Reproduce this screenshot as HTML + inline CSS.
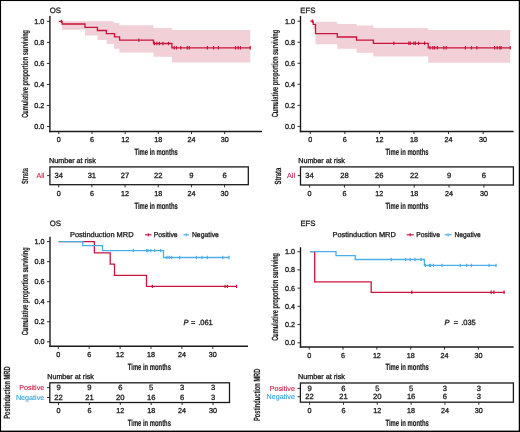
<!DOCTYPE html>
<html><head><meta charset="utf-8"><style>
html,body{margin:0;padding:0;background:#fff;}
body{width:520px;height:432px;overflow:hidden;font-family:"Liberation Sans",sans-serif;}
svg{display:block;will-change:transform;}
text{font-family:"Liberation Sans",sans-serif;text-rendering:geometricPrecision;}
</style></head><body>
<svg width="520" height="432" viewBox="0 0 520 432" font-family="Liberation Sans, sans-serif">
<rect x="0" y="0" width="520" height="432" fill="#fff"/>
<path d="M62.00,21.30 L85.00,21.30 L85.00,21.30 L97.60,21.30 L97.60,21.30 L106.60,21.30 L106.60,21.30 L113.80,21.30 L113.80,23.10 L119.30,23.10 L119.30,25.30 L153.50,25.30 L153.50,28.00 L171.90,28.00 L171.90,30.00 L250.30,30.00 L250.30,62.60 L171.90,62.60 L171.90,56.80 L153.50,56.80 L153.50,52.60 L119.30,52.60 L119.30,48.70 L113.80,48.70 L113.80,43.90 L106.60,43.90 L106.60,40.00 L97.60,40.00 L97.60,35.60 L85.00,35.60 L85.00,29.80 L62.00,29.80 Z" fill="#f2d0d7" stroke="none"/>
<path d="M58.80,21.40 H62.10 V24.00 H85.00 V27.40 H97.40 V30.50 H106.40 V33.60 H114.50 V36.80 H119.60 V40.10 H153.50 V43.50 H171.90 V47.80 H250.50" fill="none" stroke="#c8143c" stroke-width="1.3" stroke-linejoin="miter" stroke-linecap="butt"/>
<line x1="61.40" y1="19.70" x2="61.40" y2="23.10" stroke="#c8143c" stroke-width="1.2"/>
<line x1="138.80" y1="38.40" x2="138.80" y2="41.80" stroke="#c8143c" stroke-width="1.2"/>
<line x1="154.40" y1="41.80" x2="154.40" y2="45.20" stroke="#c8143c" stroke-width="1.2"/>
<line x1="156.80" y1="41.80" x2="156.80" y2="45.20" stroke="#c8143c" stroke-width="1.2"/>
<line x1="159.40" y1="41.80" x2="159.40" y2="45.20" stroke="#c8143c" stroke-width="1.2"/>
<line x1="163.00" y1="41.80" x2="163.00" y2="45.20" stroke="#c8143c" stroke-width="1.2"/>
<line x1="168.50" y1="41.80" x2="168.50" y2="45.20" stroke="#c8143c" stroke-width="1.2"/>
<line x1="174.20" y1="46.10" x2="174.20" y2="49.50" stroke="#c8143c" stroke-width="1.2"/>
<line x1="176.50" y1="46.10" x2="176.50" y2="49.50" stroke="#c8143c" stroke-width="1.2"/>
<line x1="180.80" y1="46.10" x2="180.80" y2="49.50" stroke="#c8143c" stroke-width="1.2"/>
<line x1="187.30" y1="46.10" x2="187.30" y2="49.50" stroke="#c8143c" stroke-width="1.2"/>
<line x1="189.30" y1="46.10" x2="189.30" y2="49.50" stroke="#c8143c" stroke-width="1.2"/>
<line x1="207.40" y1="46.10" x2="207.40" y2="49.50" stroke="#c8143c" stroke-width="1.2"/>
<line x1="213.50" y1="46.10" x2="213.50" y2="49.50" stroke="#c8143c" stroke-width="1.2"/>
<line x1="218.50" y1="46.10" x2="218.50" y2="49.50" stroke="#c8143c" stroke-width="1.2"/>
<line x1="235.50" y1="46.10" x2="235.50" y2="49.50" stroke="#c8143c" stroke-width="1.2"/>
<line x1="238.20" y1="46.10" x2="238.20" y2="49.50" stroke="#c8143c" stroke-width="1.2"/>
<line x1="240.50" y1="46.10" x2="240.50" y2="49.50" stroke="#c8143c" stroke-width="1.2"/>
<line x1="250.20" y1="46.10" x2="250.20" y2="49.50" stroke="#c8143c" stroke-width="1.2"/>
<line x1="49.90" y1="16.00" x2="49.90" y2="132.20" stroke="#1a1a1a" stroke-width="1.4"/>
<line x1="49.20" y1="131.50" x2="262.00" y2="131.50" stroke="#1a1a1a" stroke-width="1.4"/>
<line x1="46.90" y1="126.50" x2="49.90" y2="126.50" stroke="#1a1a1a" stroke-width="0.9"/>
<text x="44.30" y="129.05" font-size="7.2" text-anchor="end" fill="#1a1a1a" stroke="#1a1a1a" stroke-width="0.3" >0.0</text>
<line x1="46.90" y1="105.48" x2="49.90" y2="105.48" stroke="#1a1a1a" stroke-width="0.9"/>
<text x="44.30" y="108.03" font-size="7.2" text-anchor="end" fill="#1a1a1a" stroke="#1a1a1a" stroke-width="0.3" >0.2</text>
<line x1="46.90" y1="84.46" x2="49.90" y2="84.46" stroke="#1a1a1a" stroke-width="0.9"/>
<text x="44.30" y="87.01" font-size="7.2" text-anchor="end" fill="#1a1a1a" stroke="#1a1a1a" stroke-width="0.3" >0.4</text>
<line x1="46.90" y1="63.44" x2="49.90" y2="63.44" stroke="#1a1a1a" stroke-width="0.9"/>
<text x="44.30" y="65.99" font-size="7.2" text-anchor="end" fill="#1a1a1a" stroke="#1a1a1a" stroke-width="0.3" >0.6</text>
<line x1="46.90" y1="42.42" x2="49.90" y2="42.42" stroke="#1a1a1a" stroke-width="0.9"/>
<text x="44.30" y="44.97" font-size="7.2" text-anchor="end" fill="#1a1a1a" stroke="#1a1a1a" stroke-width="0.3" >0.8</text>
<line x1="46.90" y1="21.40" x2="49.90" y2="21.40" stroke="#1a1a1a" stroke-width="0.9"/>
<text x="44.30" y="23.95" font-size="7.2" text-anchor="end" fill="#1a1a1a" stroke="#1a1a1a" stroke-width="0.3" >1.0</text>
<line x1="58.80" y1="131.50" x2="58.80" y2="134.10" stroke="#1a1a1a" stroke-width="0.9"/>
<text x="58.80" y="142.10" font-size="7.2" text-anchor="middle" fill="#1a1a1a" stroke="#1a1a1a" stroke-width="0.3" >0</text>
<line x1="91.98" y1="131.50" x2="91.98" y2="134.10" stroke="#1a1a1a" stroke-width="0.9"/>
<text x="91.98" y="142.10" font-size="7.2" text-anchor="middle" fill="#1a1a1a" stroke="#1a1a1a" stroke-width="0.3" >6</text>
<line x1="125.16" y1="131.50" x2="125.16" y2="134.10" stroke="#1a1a1a" stroke-width="0.9"/>
<text x="125.16" y="142.10" font-size="7.2" text-anchor="middle" fill="#1a1a1a" stroke="#1a1a1a" stroke-width="0.3" >12</text>
<line x1="158.34" y1="131.50" x2="158.34" y2="134.10" stroke="#1a1a1a" stroke-width="0.9"/>
<text x="158.34" y="142.10" font-size="7.2" text-anchor="middle" fill="#1a1a1a" stroke="#1a1a1a" stroke-width="0.3" >18</text>
<line x1="191.52" y1="131.50" x2="191.52" y2="134.10" stroke="#1a1a1a" stroke-width="0.9"/>
<text x="191.52" y="142.10" font-size="7.2" text-anchor="middle" fill="#1a1a1a" stroke="#1a1a1a" stroke-width="0.3" >24</text>
<line x1="224.70" y1="131.50" x2="224.70" y2="134.10" stroke="#1a1a1a" stroke-width="0.9"/>
<text x="224.70" y="142.10" font-size="7.2" text-anchor="middle" fill="#1a1a1a" stroke="#1a1a1a" stroke-width="0.3" >30</text>
<text x="49.80" y="13.40" font-size="7.8" text-anchor="start" fill="#1a1a1a" stroke="#1a1a1a" stroke-width="0.3" >OS</text>
<text x="134.40" y="154.80" font-size="9.0" font-weight="bold" fill="#1a1a1a" stroke="#1a1a1a" stroke-width="0.2" textLength="43.35" lengthAdjust="spacingAndGlyphs">Time in months</text>
<text transform="translate(28.00,117.80) rotate(-90)" x="0" y="0" font-size="9.0" font-weight="bold" fill="#1a1a1a" stroke="#1a1a1a" stroke-width="0.12" textLength="87.90" lengthAdjust="spacingAndGlyphs">Cumulative proportion surviving</text>
<path d="M313.20,25.50 L315.50,25.50 L315.50,21.80 L337.30,21.80 L337.30,23.90 L356.50,23.90 L356.50,25.50 L373.40,25.50 L373.40,27.90 L428.20,27.90 L428.20,30.10 L510.20,30.10 L510.20,62.70 L428.20,62.70 L428.20,56.60 L373.40,56.60 L373.40,52.70 L356.50,52.70 L356.50,48.80 L337.30,48.80 L337.30,44.30 L315.50,44.30 L315.50,29.60 L313.20,29.60 Z" fill="#f2d0d7" stroke="none"/>
<path d="M310.30,21.20 H313.20 V24.30 H315.50 V33.60 H337.30 V37.00 H356.50 V40.10 H373.40 V43.30 H428.20 V47.80 H510.50" fill="none" stroke="#c8143c" stroke-width="1.3" stroke-linejoin="miter" stroke-linecap="butt"/>
<line x1="312.30" y1="19.50" x2="312.30" y2="22.90" stroke="#c8143c" stroke-width="1.2"/>
<line x1="393.80" y1="41.60" x2="393.80" y2="45.00" stroke="#c8143c" stroke-width="1.2"/>
<line x1="408.80" y1="41.60" x2="408.80" y2="45.00" stroke="#c8143c" stroke-width="1.2"/>
<line x1="410.30" y1="41.60" x2="410.30" y2="45.00" stroke="#c8143c" stroke-width="1.2"/>
<line x1="413.80" y1="41.60" x2="413.80" y2="45.00" stroke="#c8143c" stroke-width="1.2"/>
<line x1="415.40" y1="41.60" x2="415.40" y2="45.00" stroke="#c8143c" stroke-width="1.2"/>
<line x1="418.50" y1="41.60" x2="418.50" y2="45.00" stroke="#c8143c" stroke-width="1.2"/>
<line x1="424.60" y1="41.60" x2="424.60" y2="45.00" stroke="#c8143c" stroke-width="1.2"/>
<line x1="430.00" y1="46.10" x2="430.00" y2="49.50" stroke="#c8143c" stroke-width="1.2"/>
<line x1="432.80" y1="46.10" x2="432.80" y2="49.50" stroke="#c8143c" stroke-width="1.2"/>
<line x1="434.60" y1="46.10" x2="434.60" y2="49.50" stroke="#c8143c" stroke-width="1.2"/>
<line x1="437.40" y1="46.10" x2="437.40" y2="49.50" stroke="#c8143c" stroke-width="1.2"/>
<line x1="443.80" y1="46.10" x2="443.80" y2="49.50" stroke="#c8143c" stroke-width="1.2"/>
<line x1="446.20" y1="46.10" x2="446.20" y2="49.50" stroke="#c8143c" stroke-width="1.2"/>
<line x1="465.40" y1="46.10" x2="465.40" y2="49.50" stroke="#c8143c" stroke-width="1.2"/>
<line x1="471.50" y1="46.10" x2="471.50" y2="49.50" stroke="#c8143c" stroke-width="1.2"/>
<line x1="476.90" y1="46.10" x2="476.90" y2="49.50" stroke="#c8143c" stroke-width="1.2"/>
<line x1="494.60" y1="46.10" x2="494.60" y2="49.50" stroke="#c8143c" stroke-width="1.2"/>
<line x1="497.20" y1="46.10" x2="497.20" y2="49.50" stroke="#c8143c" stroke-width="1.2"/>
<line x1="499.70" y1="46.10" x2="499.70" y2="49.50" stroke="#c8143c" stroke-width="1.2"/>
<line x1="501.20" y1="46.10" x2="501.20" y2="49.50" stroke="#c8143c" stroke-width="1.2"/>
<line x1="510.20" y1="46.10" x2="510.20" y2="49.50" stroke="#c8143c" stroke-width="1.2"/>
<line x1="300.50" y1="16.00" x2="300.50" y2="132.20" stroke="#1a1a1a" stroke-width="1.4"/>
<line x1="299.80" y1="131.50" x2="513.60" y2="131.50" stroke="#1a1a1a" stroke-width="1.4"/>
<line x1="297.50" y1="126.40" x2="300.50" y2="126.40" stroke="#1a1a1a" stroke-width="0.9"/>
<text x="294.90" y="128.95" font-size="7.2" text-anchor="end" fill="#1a1a1a" stroke="#1a1a1a" stroke-width="0.3" >0.0</text>
<line x1="297.50" y1="105.36" x2="300.50" y2="105.36" stroke="#1a1a1a" stroke-width="0.9"/>
<text x="294.90" y="107.91" font-size="7.2" text-anchor="end" fill="#1a1a1a" stroke="#1a1a1a" stroke-width="0.3" >0.2</text>
<line x1="297.50" y1="84.32" x2="300.50" y2="84.32" stroke="#1a1a1a" stroke-width="0.9"/>
<text x="294.90" y="86.87" font-size="7.2" text-anchor="end" fill="#1a1a1a" stroke="#1a1a1a" stroke-width="0.3" >0.4</text>
<line x1="297.50" y1="63.28" x2="300.50" y2="63.28" stroke="#1a1a1a" stroke-width="0.9"/>
<text x="294.90" y="65.83" font-size="7.2" text-anchor="end" fill="#1a1a1a" stroke="#1a1a1a" stroke-width="0.3" >0.6</text>
<line x1="297.50" y1="42.24" x2="300.50" y2="42.24" stroke="#1a1a1a" stroke-width="0.9"/>
<text x="294.90" y="44.79" font-size="7.2" text-anchor="end" fill="#1a1a1a" stroke="#1a1a1a" stroke-width="0.3" >0.8</text>
<line x1="297.50" y1="21.20" x2="300.50" y2="21.20" stroke="#1a1a1a" stroke-width="0.9"/>
<text x="294.90" y="23.75" font-size="7.2" text-anchor="end" fill="#1a1a1a" stroke="#1a1a1a" stroke-width="0.3" >1.0</text>
<line x1="310.30" y1="131.50" x2="310.30" y2="134.10" stroke="#1a1a1a" stroke-width="0.9"/>
<text x="310.30" y="142.10" font-size="7.2" text-anchor="middle" fill="#1a1a1a" stroke="#1a1a1a" stroke-width="0.3" >0</text>
<line x1="344.86" y1="131.50" x2="344.86" y2="134.10" stroke="#1a1a1a" stroke-width="0.9"/>
<text x="344.86" y="142.10" font-size="7.2" text-anchor="middle" fill="#1a1a1a" stroke="#1a1a1a" stroke-width="0.3" >6</text>
<line x1="379.42" y1="131.50" x2="379.42" y2="134.10" stroke="#1a1a1a" stroke-width="0.9"/>
<text x="379.42" y="142.10" font-size="7.2" text-anchor="middle" fill="#1a1a1a" stroke="#1a1a1a" stroke-width="0.3" >12</text>
<line x1="413.98" y1="131.50" x2="413.98" y2="134.10" stroke="#1a1a1a" stroke-width="0.9"/>
<text x="413.98" y="142.10" font-size="7.2" text-anchor="middle" fill="#1a1a1a" stroke="#1a1a1a" stroke-width="0.3" >18</text>
<line x1="448.54" y1="131.50" x2="448.54" y2="134.10" stroke="#1a1a1a" stroke-width="0.9"/>
<text x="448.54" y="142.10" font-size="7.2" text-anchor="middle" fill="#1a1a1a" stroke="#1a1a1a" stroke-width="0.3" >24</text>
<line x1="483.10" y1="131.50" x2="483.10" y2="134.10" stroke="#1a1a1a" stroke-width="0.9"/>
<text x="483.10" y="142.10" font-size="7.2" text-anchor="middle" fill="#1a1a1a" stroke="#1a1a1a" stroke-width="0.3" >30</text>
<text x="300.30" y="13.20" font-size="7.8" text-anchor="start" fill="#1a1a1a" stroke="#1a1a1a" stroke-width="0.3" >EFS</text>
<text x="385.40" y="154.70" font-size="9.0" font-weight="bold" fill="#1a1a1a" stroke="#1a1a1a" stroke-width="0.2" textLength="43.10" lengthAdjust="spacingAndGlyphs">Time in months</text>
<text transform="translate(278.20,117.30) rotate(-90)" x="0" y="0" font-size="9.0" font-weight="bold" fill="#1a1a1a" stroke="#1a1a1a" stroke-width="0.12" textLength="87.60" lengthAdjust="spacingAndGlyphs">Cumulative proportion surviving</text>
<text x="49.00" y="163.30" font-size="7.2" text-anchor="start" fill="#1a1a1a" stroke="#1a1a1a" stroke-width="0.3" >Number at risk</text>
<rect x="49.90" y="166.90" width="198.40" height="17.80" fill="none" stroke="#1a1a1a" stroke-width="1.3"/>
<text x="58.70" y="178.20" font-size="7.6" text-anchor="middle" fill="#1a1a1a" stroke="#1a1a1a" stroke-width="0.3" >34</text>
<text x="91.88" y="178.20" font-size="7.6" text-anchor="middle" fill="#1a1a1a" stroke="#1a1a1a" stroke-width="0.3" >31</text>
<text x="125.06" y="178.20" font-size="7.6" text-anchor="middle" fill="#1a1a1a" stroke="#1a1a1a" stroke-width="0.3" >27</text>
<text x="158.24" y="178.20" font-size="7.6" text-anchor="middle" fill="#1a1a1a" stroke="#1a1a1a" stroke-width="0.3" >22</text>
<text x="191.42" y="178.20" font-size="7.6" text-anchor="middle" fill="#1a1a1a" stroke="#1a1a1a" stroke-width="0.3" >9</text>
<text x="224.60" y="178.20" font-size="7.6" text-anchor="middle" fill="#1a1a1a" stroke="#1a1a1a" stroke-width="0.3" >6</text>
<line x1="47.10" y1="175.60" x2="49.90" y2="175.60" stroke="#1a1a1a" stroke-width="0.9"/>
<text x="44.40" y="178.20" font-size="7.2" text-anchor="end" fill="#c8143c" stroke="#c8143c" stroke-width="0.08" >All</text>
<line x1="58.70" y1="184.70" x2="58.70" y2="187.30" stroke="#1a1a1a" stroke-width="0.9"/>
<text x="58.70" y="196.00" font-size="7.2" text-anchor="middle" fill="#1a1a1a" stroke="#1a1a1a" stroke-width="0.3" >0</text>
<line x1="91.88" y1="184.70" x2="91.88" y2="187.30" stroke="#1a1a1a" stroke-width="0.9"/>
<text x="91.88" y="196.00" font-size="7.2" text-anchor="middle" fill="#1a1a1a" stroke="#1a1a1a" stroke-width="0.3" >6</text>
<line x1="125.06" y1="184.70" x2="125.06" y2="187.30" stroke="#1a1a1a" stroke-width="0.9"/>
<text x="125.06" y="196.00" font-size="7.2" text-anchor="middle" fill="#1a1a1a" stroke="#1a1a1a" stroke-width="0.3" >12</text>
<line x1="158.24" y1="184.70" x2="158.24" y2="187.30" stroke="#1a1a1a" stroke-width="0.9"/>
<text x="158.24" y="196.00" font-size="7.2" text-anchor="middle" fill="#1a1a1a" stroke="#1a1a1a" stroke-width="0.3" >18</text>
<line x1="191.42" y1="184.70" x2="191.42" y2="187.30" stroke="#1a1a1a" stroke-width="0.9"/>
<text x="191.42" y="196.00" font-size="7.2" text-anchor="middle" fill="#1a1a1a" stroke="#1a1a1a" stroke-width="0.3" >24</text>
<line x1="224.60" y1="184.70" x2="224.60" y2="187.30" stroke="#1a1a1a" stroke-width="0.9"/>
<text x="224.60" y="196.00" font-size="7.2" text-anchor="middle" fill="#1a1a1a" stroke="#1a1a1a" stroke-width="0.3" >30</text>
<text x="134.40" y="208.60" font-size="9.0" font-weight="bold" fill="#1a1a1a" stroke="#1a1a1a" stroke-width="0.2" textLength="43.35" lengthAdjust="spacingAndGlyphs">Time in months</text>
<text transform="translate(27.80,184.00) rotate(-90)" x="0" y="0" font-size="9.0" font-weight="bold" fill="#1a1a1a" stroke="#1a1a1a" stroke-width="0.12" textLength="16.00" lengthAdjust="spacingAndGlyphs">Strata</text>
<text x="298.20" y="163.20" font-size="7.2" text-anchor="start" fill="#1a1a1a" stroke="#1a1a1a" stroke-width="0.3" >Number at risk</text>
<rect x="300.50" y="166.90" width="212.90" height="18.10" fill="none" stroke="#1a1a1a" stroke-width="1.3"/>
<text x="309.60" y="178.20" font-size="7.6" text-anchor="middle" fill="#1a1a1a" stroke="#1a1a1a" stroke-width="0.3" >34</text>
<text x="344.46" y="178.20" font-size="7.6" text-anchor="middle" fill="#1a1a1a" stroke="#1a1a1a" stroke-width="0.3" >28</text>
<text x="379.32" y="178.20" font-size="7.6" text-anchor="middle" fill="#1a1a1a" stroke="#1a1a1a" stroke-width="0.3" >26</text>
<text x="414.18" y="178.20" font-size="7.6" text-anchor="middle" fill="#1a1a1a" stroke="#1a1a1a" stroke-width="0.3" >22</text>
<text x="449.04" y="178.20" font-size="7.6" text-anchor="middle" fill="#1a1a1a" stroke="#1a1a1a" stroke-width="0.3" >9</text>
<text x="483.90" y="178.20" font-size="7.6" text-anchor="middle" fill="#1a1a1a" stroke="#1a1a1a" stroke-width="0.3" >6</text>
<line x1="297.70" y1="175.60" x2="300.50" y2="175.60" stroke="#1a1a1a" stroke-width="0.9"/>
<text x="295.00" y="178.20" font-size="7.2" text-anchor="end" fill="#c8143c" stroke="#c8143c" stroke-width="0.08" >All</text>
<line x1="309.60" y1="185.00" x2="309.60" y2="187.60" stroke="#1a1a1a" stroke-width="0.9"/>
<text x="309.60" y="196.30" font-size="7.2" text-anchor="middle" fill="#1a1a1a" stroke="#1a1a1a" stroke-width="0.3" >0</text>
<line x1="344.46" y1="185.00" x2="344.46" y2="187.60" stroke="#1a1a1a" stroke-width="0.9"/>
<text x="344.46" y="196.30" font-size="7.2" text-anchor="middle" fill="#1a1a1a" stroke="#1a1a1a" stroke-width="0.3" >6</text>
<line x1="379.32" y1="185.00" x2="379.32" y2="187.60" stroke="#1a1a1a" stroke-width="0.9"/>
<text x="379.32" y="196.30" font-size="7.2" text-anchor="middle" fill="#1a1a1a" stroke="#1a1a1a" stroke-width="0.3" >12</text>
<line x1="414.18" y1="185.00" x2="414.18" y2="187.60" stroke="#1a1a1a" stroke-width="0.9"/>
<text x="414.18" y="196.30" font-size="7.2" text-anchor="middle" fill="#1a1a1a" stroke="#1a1a1a" stroke-width="0.3" >18</text>
<line x1="449.04" y1="185.00" x2="449.04" y2="187.60" stroke="#1a1a1a" stroke-width="0.9"/>
<text x="449.04" y="196.30" font-size="7.2" text-anchor="middle" fill="#1a1a1a" stroke="#1a1a1a" stroke-width="0.3" >24</text>
<line x1="483.90" y1="185.00" x2="483.90" y2="187.60" stroke="#1a1a1a" stroke-width="0.9"/>
<text x="483.90" y="196.30" font-size="7.2" text-anchor="middle" fill="#1a1a1a" stroke="#1a1a1a" stroke-width="0.3" >30</text>
<text x="385.40" y="208.90" font-size="9.0" font-weight="bold" fill="#1a1a1a" stroke="#1a1a1a" stroke-width="0.2" textLength="43.10" lengthAdjust="spacingAndGlyphs">Time in months</text>
<text transform="translate(280.50,184.50) rotate(-90)" x="0" y="0" font-size="9.0" font-weight="bold" fill="#1a1a1a" stroke="#1a1a1a" stroke-width="0.12" textLength="16.70" lengthAdjust="spacingAndGlyphs">Strata</text>
<line x1="50.00" y1="236.70" x2="50.00" y2="347.00" stroke="#1a1a1a" stroke-width="1.4"/>
<line x1="49.30" y1="346.30" x2="248.00" y2="346.30" stroke="#1a1a1a" stroke-width="1.4"/>
<line x1="47.00" y1="341.80" x2="50.00" y2="341.80" stroke="#1a1a1a" stroke-width="0.9"/>
<text x="44.40" y="344.35" font-size="7.2" text-anchor="end" fill="#1a1a1a" stroke="#1a1a1a" stroke-width="0.3" >0.0</text>
<line x1="47.00" y1="321.76" x2="50.00" y2="321.76" stroke="#1a1a1a" stroke-width="0.9"/>
<text x="44.40" y="324.31" font-size="7.2" text-anchor="end" fill="#1a1a1a" stroke="#1a1a1a" stroke-width="0.3" >0.2</text>
<line x1="47.00" y1="301.72" x2="50.00" y2="301.72" stroke="#1a1a1a" stroke-width="0.9"/>
<text x="44.40" y="304.27" font-size="7.2" text-anchor="end" fill="#1a1a1a" stroke="#1a1a1a" stroke-width="0.3" >0.4</text>
<line x1="47.00" y1="281.68" x2="50.00" y2="281.68" stroke="#1a1a1a" stroke-width="0.9"/>
<text x="44.40" y="284.23" font-size="7.2" text-anchor="end" fill="#1a1a1a" stroke="#1a1a1a" stroke-width="0.3" >0.6</text>
<line x1="47.00" y1="261.64" x2="50.00" y2="261.64" stroke="#1a1a1a" stroke-width="0.9"/>
<text x="44.40" y="264.19" font-size="7.2" text-anchor="end" fill="#1a1a1a" stroke="#1a1a1a" stroke-width="0.3" >0.8</text>
<line x1="47.00" y1="241.60" x2="50.00" y2="241.60" stroke="#1a1a1a" stroke-width="0.9"/>
<text x="44.40" y="244.15" font-size="7.2" text-anchor="end" fill="#1a1a1a" stroke="#1a1a1a" stroke-width="0.3" >1.0</text>
<line x1="58.30" y1="346.30" x2="58.30" y2="348.90" stroke="#1a1a1a" stroke-width="0.9"/>
<text x="58.30" y="356.90" font-size="7.2" text-anchor="middle" fill="#1a1a1a" stroke="#1a1a1a" stroke-width="0.3" >0</text>
<line x1="89.20" y1="346.30" x2="89.20" y2="348.90" stroke="#1a1a1a" stroke-width="0.9"/>
<text x="89.20" y="356.90" font-size="7.2" text-anchor="middle" fill="#1a1a1a" stroke="#1a1a1a" stroke-width="0.3" >6</text>
<line x1="120.10" y1="346.30" x2="120.10" y2="348.90" stroke="#1a1a1a" stroke-width="0.9"/>
<text x="120.10" y="356.90" font-size="7.2" text-anchor="middle" fill="#1a1a1a" stroke="#1a1a1a" stroke-width="0.3" >12</text>
<line x1="151.00" y1="346.30" x2="151.00" y2="348.90" stroke="#1a1a1a" stroke-width="0.9"/>
<text x="151.00" y="356.90" font-size="7.2" text-anchor="middle" fill="#1a1a1a" stroke="#1a1a1a" stroke-width="0.3" >18</text>
<line x1="181.90" y1="346.30" x2="181.90" y2="348.90" stroke="#1a1a1a" stroke-width="0.9"/>
<text x="181.90" y="356.90" font-size="7.2" text-anchor="middle" fill="#1a1a1a" stroke="#1a1a1a" stroke-width="0.3" >24</text>
<line x1="212.80" y1="346.30" x2="212.80" y2="348.90" stroke="#1a1a1a" stroke-width="0.9"/>
<text x="212.80" y="356.90" font-size="7.2" text-anchor="middle" fill="#1a1a1a" stroke="#1a1a1a" stroke-width="0.3" >30</text>
<path d="M58.60,241.60 H94.40 V252.90 H110.20 V264.20 H114.50 V275.30 H146.50 V286.40 H236.90" fill="none" stroke="#c8143c" stroke-width="1.3" stroke-linejoin="miter" stroke-linecap="butt"/>
<line x1="152.40" y1="284.70" x2="152.40" y2="288.10" stroke="#c8143c" stroke-width="1.2"/>
<line x1="225.10" y1="284.70" x2="225.10" y2="288.10" stroke="#c8143c" stroke-width="1.2"/>
<line x1="227.40" y1="284.70" x2="227.40" y2="288.10" stroke="#c8143c" stroke-width="1.2"/>
<line x1="236.60" y1="284.70" x2="236.60" y2="288.10" stroke="#c8143c" stroke-width="1.2"/>
<path d="M58.60,241.60 H82.70 V245.60 H102.50 V250.60 H163.50 V257.50 H229.20" fill="none" stroke="#4aafe6" stroke-width="1.3" stroke-linejoin="miter" stroke-linecap="butt"/>
<line x1="133.30" y1="248.90" x2="133.30" y2="252.30" stroke="#4aafe6" stroke-width="1.2"/>
<line x1="146.60" y1="248.90" x2="146.60" y2="252.30" stroke="#4aafe6" stroke-width="1.2"/>
<line x1="148.00" y1="248.90" x2="148.00" y2="252.30" stroke="#4aafe6" stroke-width="1.2"/>
<line x1="150.80" y1="248.90" x2="150.80" y2="252.30" stroke="#4aafe6" stroke-width="1.2"/>
<line x1="154.70" y1="248.90" x2="154.70" y2="252.30" stroke="#4aafe6" stroke-width="1.2"/>
<line x1="160.70" y1="248.90" x2="160.70" y2="252.30" stroke="#4aafe6" stroke-width="1.2"/>
<line x1="166.90" y1="255.80" x2="166.90" y2="259.20" stroke="#4aafe6" stroke-width="1.2"/>
<line x1="169.20" y1="255.80" x2="169.20" y2="259.20" stroke="#4aafe6" stroke-width="1.2"/>
<line x1="171.50" y1="255.80" x2="171.50" y2="259.20" stroke="#4aafe6" stroke-width="1.2"/>
<line x1="179.60" y1="255.80" x2="179.60" y2="259.20" stroke="#4aafe6" stroke-width="1.2"/>
<line x1="196.50" y1="255.80" x2="196.50" y2="259.20" stroke="#4aafe6" stroke-width="1.2"/>
<line x1="202.00" y1="255.80" x2="202.00" y2="259.20" stroke="#4aafe6" stroke-width="1.2"/>
<line x1="207.30" y1="255.80" x2="207.30" y2="259.20" stroke="#4aafe6" stroke-width="1.2"/>
<line x1="222.80" y1="255.80" x2="222.80" y2="259.20" stroke="#4aafe6" stroke-width="1.2"/>
<line x1="229.00" y1="255.80" x2="229.00" y2="259.20" stroke="#4aafe6" stroke-width="1.2"/>
<text x="49.80" y="226.20" font-size="7.8" text-anchor="start" fill="#1a1a1a" stroke="#1a1a1a" stroke-width="0.3" >OS</text>
<text x="70.00" y="237.20" font-size="7.2" text-anchor="start" fill="#1a1a1a" stroke="#1a1a1a" stroke-width="0.3" textLength="63.5" lengthAdjust="spacingAndGlyphs" >Postinduction MRD</text>
<line x1="145.10" y1="234.80" x2="151.50" y2="234.80" stroke="#c8143c" stroke-width="1.2"/>
<line x1="148.30" y1="233.20" x2="148.30" y2="236.40" stroke="#c8143c" stroke-width="1.0"/>
<text x="153.80" y="237.20" font-size="7.2" text-anchor="start" fill="#1a1a1a" stroke="#1a1a1a" stroke-width="0.3" textLength="23.8" lengthAdjust="spacingAndGlyphs" >Positive</text>
<line x1="183.40" y1="234.80" x2="188.90" y2="234.80" stroke="#4aafe6" stroke-width="1.2"/>
<line x1="186.10" y1="233.20" x2="186.10" y2="236.40" stroke="#4aafe6" stroke-width="1.0"/>
<text x="191.90" y="237.20" font-size="7.2" text-anchor="start" fill="#1a1a1a" stroke="#1a1a1a" stroke-width="0.3" textLength="27.0" lengthAdjust="spacingAndGlyphs" >Negative</text>
<text x="183.60" y="324.70" font-size="7.5" text-anchor="start" fill="#1a1a1a" stroke="#1a1a1a" stroke-width="0.3" font-style="italic">P</text>
<text x="191.05" y="324.70" font-size="7.5" text-anchor="start" fill="#1a1a1a" stroke="#1a1a1a" stroke-width="0.3" >=</text>
<text x="198.20" y="324.70" font-size="7.5" text-anchor="start" fill="#1a1a1a" stroke="#1a1a1a" stroke-width="0.3" >.061</text>
<text x="127.80" y="370.30" font-size="9.0" font-weight="bold" fill="#1a1a1a" stroke="#1a1a1a" stroke-width="0.2" textLength="43.10" lengthAdjust="spacingAndGlyphs">Time in months</text>
<text transform="translate(28.00,335.20) rotate(-90)" x="0" y="0" font-size="9.0" font-weight="bold" fill="#1a1a1a" stroke="#1a1a1a" stroke-width="0.12" textLength="87.90" lengthAdjust="spacingAndGlyphs">Cumulative proportion surviving</text>
<line x1="300.50" y1="247.20" x2="300.50" y2="347.70" stroke="#1a1a1a" stroke-width="1.4"/>
<line x1="299.80" y1="347.00" x2="513.70" y2="347.00" stroke="#1a1a1a" stroke-width="1.4"/>
<line x1="297.50" y1="342.80" x2="300.50" y2="342.80" stroke="#1a1a1a" stroke-width="0.9"/>
<text x="294.90" y="345.35" font-size="7.2" text-anchor="end" fill="#1a1a1a" stroke="#1a1a1a" stroke-width="0.3" >0.0</text>
<line x1="297.50" y1="324.58" x2="300.50" y2="324.58" stroke="#1a1a1a" stroke-width="0.9"/>
<text x="294.90" y="327.13" font-size="7.2" text-anchor="end" fill="#1a1a1a" stroke="#1a1a1a" stroke-width="0.3" >0.2</text>
<line x1="297.50" y1="306.36" x2="300.50" y2="306.36" stroke="#1a1a1a" stroke-width="0.9"/>
<text x="294.90" y="308.91" font-size="7.2" text-anchor="end" fill="#1a1a1a" stroke="#1a1a1a" stroke-width="0.3" >0.4</text>
<line x1="297.50" y1="288.14" x2="300.50" y2="288.14" stroke="#1a1a1a" stroke-width="0.9"/>
<text x="294.90" y="290.69" font-size="7.2" text-anchor="end" fill="#1a1a1a" stroke="#1a1a1a" stroke-width="0.3" >0.6</text>
<line x1="297.50" y1="269.92" x2="300.50" y2="269.92" stroke="#1a1a1a" stroke-width="0.9"/>
<text x="294.90" y="272.47" font-size="7.2" text-anchor="end" fill="#1a1a1a" stroke="#1a1a1a" stroke-width="0.3" >0.8</text>
<line x1="297.50" y1="251.70" x2="300.50" y2="251.70" stroke="#1a1a1a" stroke-width="0.9"/>
<text x="294.90" y="254.25" font-size="7.2" text-anchor="end" fill="#1a1a1a" stroke="#1a1a1a" stroke-width="0.3" >1.0</text>
<line x1="309.20" y1="347.00" x2="309.20" y2="349.60" stroke="#1a1a1a" stroke-width="0.9"/>
<text x="309.20" y="357.60" font-size="7.2" text-anchor="middle" fill="#1a1a1a" stroke="#1a1a1a" stroke-width="0.3" >0</text>
<line x1="343.04" y1="347.00" x2="343.04" y2="349.60" stroke="#1a1a1a" stroke-width="0.9"/>
<text x="343.04" y="357.60" font-size="7.2" text-anchor="middle" fill="#1a1a1a" stroke="#1a1a1a" stroke-width="0.3" >6</text>
<line x1="376.88" y1="347.00" x2="376.88" y2="349.60" stroke="#1a1a1a" stroke-width="0.9"/>
<text x="376.88" y="357.60" font-size="7.2" text-anchor="middle" fill="#1a1a1a" stroke="#1a1a1a" stroke-width="0.3" >12</text>
<line x1="410.72" y1="347.00" x2="410.72" y2="349.60" stroke="#1a1a1a" stroke-width="0.9"/>
<text x="410.72" y="357.60" font-size="7.2" text-anchor="middle" fill="#1a1a1a" stroke="#1a1a1a" stroke-width="0.3" >18</text>
<line x1="444.56" y1="347.00" x2="444.56" y2="349.60" stroke="#1a1a1a" stroke-width="0.9"/>
<text x="444.56" y="357.60" font-size="7.2" text-anchor="middle" fill="#1a1a1a" stroke="#1a1a1a" stroke-width="0.3" >24</text>
<line x1="478.40" y1="347.00" x2="478.40" y2="349.60" stroke="#1a1a1a" stroke-width="0.9"/>
<text x="478.40" y="357.60" font-size="7.2" text-anchor="middle" fill="#1a1a1a" stroke="#1a1a1a" stroke-width="0.3" >30</text>
<path d="M310.20,251.70 H314.70 V281.90 H371.20 V292.30 H504.40" fill="none" stroke="#c8143c" stroke-width="1.3" stroke-linejoin="miter" stroke-linecap="butt"/>
<line x1="411.80" y1="290.60" x2="411.80" y2="294.00" stroke="#c8143c" stroke-width="1.2"/>
<line x1="491.20" y1="290.60" x2="491.20" y2="294.00" stroke="#c8143c" stroke-width="1.2"/>
<line x1="493.90" y1="290.60" x2="493.90" y2="294.00" stroke="#c8143c" stroke-width="1.2"/>
<line x1="504.10" y1="290.60" x2="504.10" y2="294.00" stroke="#c8143c" stroke-width="1.2"/>
<path d="M310.20,251.70 H336.00 V255.60 H355.20 V259.50 H424.40 V265.40 H496.30" fill="none" stroke="#4aafe6" stroke-width="1.3" stroke-linejoin="miter" stroke-linecap="butt"/>
<line x1="391.30" y1="257.80" x2="391.30" y2="261.20" stroke="#4aafe6" stroke-width="1.2"/>
<line x1="405.50" y1="257.80" x2="405.50" y2="261.20" stroke="#4aafe6" stroke-width="1.2"/>
<line x1="410.20" y1="257.80" x2="410.20" y2="261.20" stroke="#4aafe6" stroke-width="1.2"/>
<line x1="415.00" y1="257.80" x2="415.00" y2="261.20" stroke="#4aafe6" stroke-width="1.2"/>
<line x1="421.10" y1="257.80" x2="421.10" y2="261.20" stroke="#4aafe6" stroke-width="1.2"/>
<line x1="425.40" y1="263.70" x2="425.40" y2="267.10" stroke="#4aafe6" stroke-width="1.2"/>
<line x1="429.40" y1="263.70" x2="429.40" y2="267.10" stroke="#4aafe6" stroke-width="1.2"/>
<line x1="430.60" y1="263.70" x2="430.60" y2="267.10" stroke="#4aafe6" stroke-width="1.2"/>
<line x1="433.50" y1="263.70" x2="433.50" y2="267.10" stroke="#4aafe6" stroke-width="1.2"/>
<line x1="442.00" y1="263.70" x2="442.00" y2="267.10" stroke="#4aafe6" stroke-width="1.2"/>
<line x1="460.20" y1="263.70" x2="460.20" y2="267.10" stroke="#4aafe6" stroke-width="1.2"/>
<line x1="466.70" y1="263.70" x2="466.70" y2="267.10" stroke="#4aafe6" stroke-width="1.2"/>
<line x1="471.50" y1="263.70" x2="471.50" y2="267.10" stroke="#4aafe6" stroke-width="1.2"/>
<line x1="489.00" y1="263.70" x2="489.00" y2="267.10" stroke="#4aafe6" stroke-width="1.2"/>
<line x1="496.00" y1="263.70" x2="496.00" y2="267.10" stroke="#4aafe6" stroke-width="1.2"/>
<text x="300.40" y="226.10" font-size="7.8" text-anchor="start" fill="#1a1a1a" stroke="#1a1a1a" stroke-width="0.3" >EFS</text>
<text x="332.50" y="237.20" font-size="7.2" text-anchor="start" fill="#1a1a1a" stroke="#1a1a1a" stroke-width="0.3" textLength="63.3" lengthAdjust="spacingAndGlyphs" >Postinduction MRD</text>
<line x1="406.70" y1="234.80" x2="413.80" y2="234.80" stroke="#c8143c" stroke-width="1.2"/>
<line x1="410.20" y1="233.20" x2="410.20" y2="236.40" stroke="#c8143c" stroke-width="1.0"/>
<text x="416.30" y="237.20" font-size="7.2" text-anchor="start" fill="#1a1a1a" stroke="#1a1a1a" stroke-width="0.3" textLength="23.7" lengthAdjust="spacingAndGlyphs" >Positive</text>
<line x1="444.80" y1="234.80" x2="451.50" y2="234.80" stroke="#4aafe6" stroke-width="1.2"/>
<line x1="448.10" y1="233.20" x2="448.10" y2="236.40" stroke="#4aafe6" stroke-width="1.0"/>
<text x="454.40" y="237.20" font-size="7.2" text-anchor="start" fill="#1a1a1a" stroke="#1a1a1a" stroke-width="0.3" textLength="26.4" lengthAdjust="spacingAndGlyphs" >Negative</text>
<text x="444.60" y="325.10" font-size="7.5" text-anchor="start" fill="#1a1a1a" stroke="#1a1a1a" stroke-width="0.3" font-style="italic">P</text>
<text x="453.75" y="325.10" font-size="7.5" text-anchor="start" fill="#1a1a1a" stroke="#1a1a1a" stroke-width="0.3" >=</text>
<text x="461.20" y="325.10" font-size="7.5" text-anchor="start" fill="#1a1a1a" stroke="#1a1a1a" stroke-width="0.3" >.035</text>
<text x="385.50" y="370.30" font-size="9.0" font-weight="bold" fill="#1a1a1a" stroke="#1a1a1a" stroke-width="0.2" textLength="43.30" lengthAdjust="spacingAndGlyphs">Time in months</text>
<text transform="translate(278.20,340.80) rotate(-90)" x="0" y="0" font-size="9.0" font-weight="bold" fill="#1a1a1a" stroke="#1a1a1a" stroke-width="0.12" textLength="87.90" lengthAdjust="spacingAndGlyphs">Cumulative proportion surviving</text>
<text x="47.20" y="379.30" font-size="7.2" text-anchor="start" fill="#1a1a1a" stroke="#1a1a1a" stroke-width="0.3" >Number at risk</text>
<rect x="49.80" y="382.80" width="179.70" height="19.70" fill="none" stroke="#1a1a1a" stroke-width="1.3"/>
<text x="58.50" y="390.20" font-size="7.6" text-anchor="middle" fill="#1a1a1a" stroke="#1a1a1a" stroke-width="0.3" >9</text>
<text x="89.40" y="390.20" font-size="7.6" text-anchor="middle" fill="#1a1a1a" stroke="#1a1a1a" stroke-width="0.3" >9</text>
<text x="120.30" y="390.20" font-size="7.6" text-anchor="middle" fill="#1a1a1a" stroke="#1a1a1a" stroke-width="0.3" >6</text>
<text x="151.20" y="390.20" font-size="7.6" text-anchor="middle" fill="#1a1a1a" stroke="#1a1a1a" stroke-width="0.3" >5</text>
<text x="182.10" y="390.20" font-size="7.6" text-anchor="middle" fill="#1a1a1a" stroke="#1a1a1a" stroke-width="0.3" >3</text>
<text x="213.00" y="390.20" font-size="7.6" text-anchor="middle" fill="#1a1a1a" stroke="#1a1a1a" stroke-width="0.3" >3</text>
<line x1="47.00" y1="387.60" x2="49.80" y2="387.60" stroke="#1a1a1a" stroke-width="0.9"/>
<text x="44.30" y="390.20" font-size="7.2" text-anchor="end" fill="#c8143c" stroke="#c8143c" stroke-width="0.08" >Positive</text>
<text x="58.50" y="400.10" font-size="7.6" text-anchor="middle" fill="#1a1a1a" stroke="#1a1a1a" stroke-width="0.3" >22</text>
<text x="89.40" y="400.10" font-size="7.6" text-anchor="middle" fill="#1a1a1a" stroke="#1a1a1a" stroke-width="0.3" >21</text>
<text x="120.30" y="400.10" font-size="7.6" text-anchor="middle" fill="#1a1a1a" stroke="#1a1a1a" stroke-width="0.3" >20</text>
<text x="151.20" y="400.10" font-size="7.6" text-anchor="middle" fill="#1a1a1a" stroke="#1a1a1a" stroke-width="0.3" >16</text>
<text x="182.10" y="400.10" font-size="7.6" text-anchor="middle" fill="#1a1a1a" stroke="#1a1a1a" stroke-width="0.3" >6</text>
<text x="213.00" y="400.10" font-size="7.6" text-anchor="middle" fill="#1a1a1a" stroke="#1a1a1a" stroke-width="0.3" >3</text>
<line x1="47.00" y1="397.50" x2="49.80" y2="397.50" stroke="#1a1a1a" stroke-width="0.9"/>
<text x="44.30" y="400.10" font-size="7.2" text-anchor="end" fill="#2a9fda" stroke="#2a9fda" stroke-width="0.08" >Negative</text>
<line x1="58.50" y1="402.50" x2="58.50" y2="405.10" stroke="#1a1a1a" stroke-width="0.9"/>
<text x="58.50" y="413.30" font-size="7.2" text-anchor="middle" fill="#1a1a1a" stroke="#1a1a1a" stroke-width="0.3" >0</text>
<line x1="89.40" y1="402.50" x2="89.40" y2="405.10" stroke="#1a1a1a" stroke-width="0.9"/>
<text x="89.40" y="413.30" font-size="7.2" text-anchor="middle" fill="#1a1a1a" stroke="#1a1a1a" stroke-width="0.3" >6</text>
<line x1="120.30" y1="402.50" x2="120.30" y2="405.10" stroke="#1a1a1a" stroke-width="0.9"/>
<text x="120.30" y="413.30" font-size="7.2" text-anchor="middle" fill="#1a1a1a" stroke="#1a1a1a" stroke-width="0.3" >12</text>
<line x1="151.20" y1="402.50" x2="151.20" y2="405.10" stroke="#1a1a1a" stroke-width="0.9"/>
<text x="151.20" y="413.30" font-size="7.2" text-anchor="middle" fill="#1a1a1a" stroke="#1a1a1a" stroke-width="0.3" >18</text>
<line x1="182.10" y1="402.50" x2="182.10" y2="405.10" stroke="#1a1a1a" stroke-width="0.9"/>
<text x="182.10" y="413.30" font-size="7.2" text-anchor="middle" fill="#1a1a1a" stroke="#1a1a1a" stroke-width="0.3" >24</text>
<line x1="213.00" y1="402.50" x2="213.00" y2="405.10" stroke="#1a1a1a" stroke-width="0.9"/>
<text x="213.00" y="413.30" font-size="7.2" text-anchor="middle" fill="#1a1a1a" stroke="#1a1a1a" stroke-width="0.3" >30</text>
<text x="127.80" y="426.00" font-size="9.0" font-weight="bold" fill="#1a1a1a" stroke="#1a1a1a" stroke-width="0.2" textLength="43.10" lengthAdjust="spacingAndGlyphs">Time in months</text>
<text transform="translate(10.20,418.80) rotate(-90)" x="0" y="0" font-size="9.0" font-weight="bold" fill="#1a1a1a" stroke="#1a1a1a" stroke-width="0.12" textLength="52.30" lengthAdjust="spacingAndGlyphs">Postinduction MRD</text>
<text x="298.10" y="379.20" font-size="7.2" text-anchor="start" fill="#1a1a1a" stroke="#1a1a1a" stroke-width="0.3" >Number at risk</text>
<rect x="300.40" y="383.00" width="213.00" height="19.20" fill="none" stroke="#1a1a1a" stroke-width="1.3"/>
<text x="309.60" y="391.00" font-size="7.6" text-anchor="middle" fill="#1a1a1a" stroke="#1a1a1a" stroke-width="0.3" >9</text>
<text x="343.44" y="391.00" font-size="7.6" text-anchor="middle" fill="#1a1a1a" stroke="#1a1a1a" stroke-width="0.3" >6</text>
<text x="377.28" y="391.00" font-size="7.6" text-anchor="middle" fill="#1a1a1a" stroke="#1a1a1a" stroke-width="0.3" >5</text>
<text x="411.12" y="391.00" font-size="7.6" text-anchor="middle" fill="#1a1a1a" stroke="#1a1a1a" stroke-width="0.3" >5</text>
<text x="444.96" y="391.00" font-size="7.6" text-anchor="middle" fill="#1a1a1a" stroke="#1a1a1a" stroke-width="0.3" >3</text>
<text x="478.80" y="391.00" font-size="7.6" text-anchor="middle" fill="#1a1a1a" stroke="#1a1a1a" stroke-width="0.3" >3</text>
<line x1="297.60" y1="388.40" x2="300.40" y2="388.40" stroke="#1a1a1a" stroke-width="0.9"/>
<text x="294.90" y="391.00" font-size="7.2" text-anchor="end" fill="#c8143c" stroke="#c8143c" stroke-width="0.08" >Positive</text>
<text x="309.60" y="399.30" font-size="7.6" text-anchor="middle" fill="#1a1a1a" stroke="#1a1a1a" stroke-width="0.3" >22</text>
<text x="343.44" y="399.30" font-size="7.6" text-anchor="middle" fill="#1a1a1a" stroke="#1a1a1a" stroke-width="0.3" >21</text>
<text x="377.28" y="399.30" font-size="7.6" text-anchor="middle" fill="#1a1a1a" stroke="#1a1a1a" stroke-width="0.3" >20</text>
<text x="411.12" y="399.30" font-size="7.6" text-anchor="middle" fill="#1a1a1a" stroke="#1a1a1a" stroke-width="0.3" >16</text>
<text x="444.96" y="399.30" font-size="7.6" text-anchor="middle" fill="#1a1a1a" stroke="#1a1a1a" stroke-width="0.3" >6</text>
<text x="478.80" y="399.30" font-size="7.6" text-anchor="middle" fill="#1a1a1a" stroke="#1a1a1a" stroke-width="0.3" >3</text>
<line x1="297.60" y1="396.70" x2="300.40" y2="396.70" stroke="#1a1a1a" stroke-width="0.9"/>
<text x="294.90" y="399.30" font-size="7.2" text-anchor="end" fill="#2a9fda" stroke="#2a9fda" stroke-width="0.08" >Negative</text>
<line x1="309.60" y1="402.20" x2="309.60" y2="404.80" stroke="#1a1a1a" stroke-width="0.9"/>
<text x="309.60" y="413.00" font-size="7.2" text-anchor="middle" fill="#1a1a1a" stroke="#1a1a1a" stroke-width="0.3" >0</text>
<line x1="343.44" y1="402.20" x2="343.44" y2="404.80" stroke="#1a1a1a" stroke-width="0.9"/>
<text x="343.44" y="413.00" font-size="7.2" text-anchor="middle" fill="#1a1a1a" stroke="#1a1a1a" stroke-width="0.3" >6</text>
<line x1="377.28" y1="402.20" x2="377.28" y2="404.80" stroke="#1a1a1a" stroke-width="0.9"/>
<text x="377.28" y="413.00" font-size="7.2" text-anchor="middle" fill="#1a1a1a" stroke="#1a1a1a" stroke-width="0.3" >12</text>
<line x1="411.12" y1="402.20" x2="411.12" y2="404.80" stroke="#1a1a1a" stroke-width="0.9"/>
<text x="411.12" y="413.00" font-size="7.2" text-anchor="middle" fill="#1a1a1a" stroke="#1a1a1a" stroke-width="0.3" >18</text>
<line x1="444.96" y1="402.20" x2="444.96" y2="404.80" stroke="#1a1a1a" stroke-width="0.9"/>
<text x="444.96" y="413.00" font-size="7.2" text-anchor="middle" fill="#1a1a1a" stroke="#1a1a1a" stroke-width="0.3" >24</text>
<line x1="478.80" y1="402.20" x2="478.80" y2="404.80" stroke="#1a1a1a" stroke-width="0.9"/>
<text x="478.80" y="413.00" font-size="7.2" text-anchor="middle" fill="#1a1a1a" stroke="#1a1a1a" stroke-width="0.3" >30</text>
<text x="385.50" y="426.00" font-size="9.0" font-weight="bold" fill="#1a1a1a" stroke="#1a1a1a" stroke-width="0.2" textLength="43.30" lengthAdjust="spacingAndGlyphs">Time in months</text>
<text transform="translate(260.40,421.00) rotate(-90)" x="0" y="0" font-size="9.0" font-weight="bold" fill="#1a1a1a" stroke="#1a1a1a" stroke-width="0.12" textLength="52.30" lengthAdjust="spacingAndGlyphs">Postinduction MRD</text>
<rect x="0" y="0" width="520" height="1.05" fill="#000"/>
<rect x="0" y="0" width="1.05" height="432" fill="#000"/>
<rect x="518.75" y="0" width="1.25" height="432" fill="#000"/>
<rect x="0" y="430.6" width="520" height="1.4" fill="#000"/>
</svg>
</body></html>
